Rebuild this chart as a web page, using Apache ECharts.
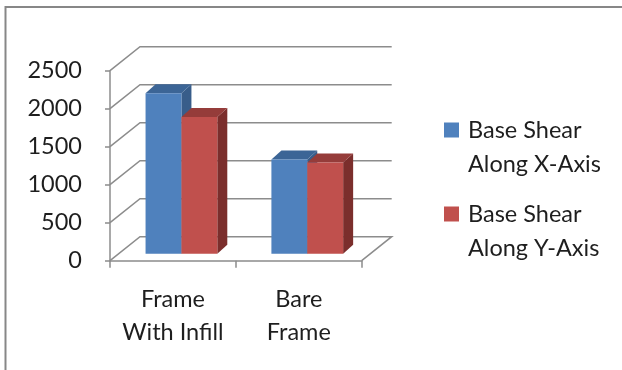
<!DOCTYPE html>
<html>
<head>
<meta charset="utf-8">
<script src="https://cdn.jsdelivr.net/npm/echarts@6/dist/echarts.min.js"></script>
<style>
  html, body { margin: 0; padding: 0; background: #fff; }
  #chart { width: 622px; height: 370px; }
</style>
</head>
<body>
<div id="chart"></div>
<script>
// Base shear comparison: frame with infill vs. bare frame
const categories = ['Frame\nWith Infill', 'Bare\nFrame'];
const seriesNames = ['Base Shear\nAlong X-Axis', 'Base Shear\nAlong Y-Axis'];
const alongX = [2110, 1240];
const alongY = [1800, 1200];
const yTicks = [0, 500, 1000, 1500, 2000, 2500];

// Face colours for the pseudo-3D columns
const palette = [
  { front: '#4f81bd', top: '#3c6596', side: '#385d8a' },
  { front: '#c0504d', top: '#953c3a', side: '#7b2e2c' }
];

// Oblique projection settings (pixels)
const WALL_DX = 30, WALL_DY = -24;         // depth of floor / walls
const BAR_SHIFT_X = 8.5, BAR_SHIFT_Y = -7; // columns sit a bit behind the front edge
const BAR_DX = 10, BAR_DY = -9;            // column depth
const BAR_W_RATIO = 0.285;                 // column width as a share of the category band

const FONT = 'Lato';
const TEXT = '#1e1e1e';
const GRID_GRAY = '#8c8c8c';

function renderWalls(params, api) {
  const v = api.value(1);
  const band = api.size([1, 0])[0];
  const pL = api.coord([0, v]);
  const pR = api.coord([categories.length - 1, v]);
  const x0 = pL[0] - band / 2;
  const x1 = pR[0] + band / 2;
  const y = pL[1];
  const pts = [[x0, y], [x0 + WALL_DX, y + WALL_DY], [x1 + WALL_DX, y + WALL_DY]];
  if (v === 0) pts.push([x1, y]);
  return {
    type: 'polyline',
    shape: { points: pts },
    style: { stroke: GRID_GRAY, lineWidth: 1.5, fill: null },
    silent: true
  };
}

function makeBarRenderer(seriesIdx) {
  const c = palette[seriesIdx];
  return function (params, api) {
    const cat = api.value(0);
    const v = api.value(1);
    const band = api.size([1, 0])[0];
    const w = band * BAR_W_RATIO;
    const top = api.coord([cat, v]);
    const base = api.coord([cat, 0]);
    const cx = top[0] + BAR_SHIFT_X;
    const xL = seriesIdx === 0 ? cx - w : cx;
    const xR = xL + w;
    const yT = top[1] + BAR_SHIFT_Y;
    const yB = base[1] + BAR_SHIFT_Y;
    return {
      type: 'group',
      children: [
        { type: 'polygon', shape: { points: [[xR, yT], [xR + BAR_DX, yT + BAR_DY], [xR + BAR_DX, yB + BAR_DY], [xR, yB]] }, style: { fill: c.side } },
        { type: 'polygon', shape: { points: [[xL, yT], [xL + BAR_DX, yT + BAR_DY], [xR + BAR_DX, yT + BAR_DY], [xR, yT]] }, style: { fill: c.top } },
        { type: 'rect', shape: { x: xL, y: yT, width: w, height: yB - yT }, style: { fill: c.front } }
      ]
    };
  };
}

const chart = echarts.init(document.getElementById('chart'), null, { renderer: 'canvas' });

chart.setOption({
  backgroundColor: '#ffffff',
  animation: false,
  grid: { left: 110, top: 70.7, width: 251.7, height: 190 },
  xAxis: {
    type: 'category',
    data: categories,
    boundaryGap: true,
    axisLine: { show: true, lineStyle: { color: GRID_GRAY, width: 1.5 } },
    axisTick: { show: true, length: 7, lineStyle: { color: GRID_GRAY, width: 1.5 } },
    axisLabel: {
      interval: 0,
      hideOverlap: false,
      margin: 22,
      fontFamily: FONT,
      fontSize: 23.5,
      lineHeight: 33,
      color: TEXT
    }
  },
  yAxis: {
    type: 'value',
    min: 0,
    max: 2500,
    interval: 500,
    axisLine: { show: true, lineStyle: { color: GRID_GRAY, width: 1.5 } },
    axisTick: { show: true, length: 5, lineStyle: { color: GRID_GRAY, width: 1.5 } },
    splitLine: { show: false },
    axisLabel: {
      margin: 28,
      fontFamily: FONT,
      fontSize: 23.5,
      color: TEXT,
      padding: [8, 0, 0, 0],
      formatter: v => String(v)
    }
  },
  legend: {
    orient: 'vertical',
    left: 444,
    top: 79,
    padding: 0,
    icon: 'rect',
    itemWidth: 15,
    itemHeight: 15,
    itemGap: -18,
    data: seriesNames,
    // leading blank line keeps the swatch level with the first text line
    formatter: name => '\n' + name,
    textStyle: { fontFamily: FONT, fontSize: 23.5, lineHeight: 34, color: TEXT, padding: [0, 0, 0, 4] }
  },
  graphic: [
    {
      type: 'polyline',
      silent: true,
      shape: { points: [[5.5, 370], [5.5, 7], [622, 7]] },
      style: { stroke: '#878787', lineWidth: 2, fill: null }
    }
  ],
  series: [
    {
      type: 'custom',
      name: 'walls',
      silent: true,
      clip: false,
      z: 1,
      renderItem: renderWalls,
      encode: { x: 0, y: 1 },
      data: yTicks.map(v => [0, v])
    },
    {
      type: 'custom',
      name: seriesNames[0],
      clip: false,
      z: 3,
      itemStyle: { color: palette[0].front },
      renderItem: makeBarRenderer(0),
      encode: { x: 0, y: 1 },
      data: alongX.map((v, i) => [i, v])
    },
    {
      type: 'custom',
      name: seriesNames[1],
      clip: false,
      z: 3,
      itemStyle: { color: palette[1].front },
      renderItem: makeBarRenderer(1),
      encode: { x: 0, y: 1 },
      data: alongY.map((v, i) => [i, v])
    }
  ]
});
</script>
</body>
</html>
